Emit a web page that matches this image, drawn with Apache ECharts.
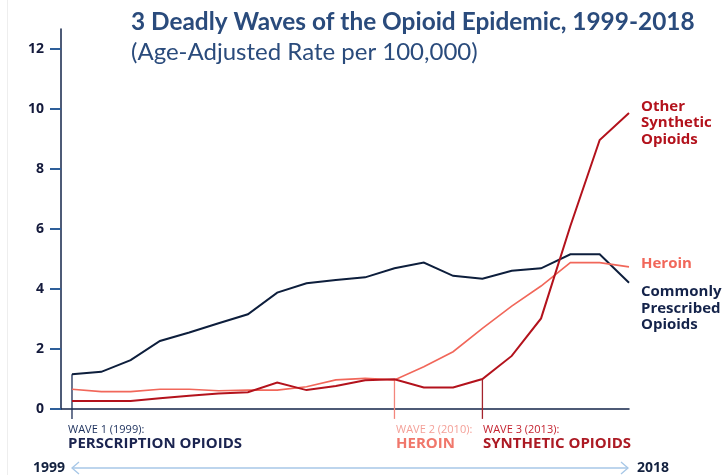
<!DOCTYPE html>
<html>
<head>
<meta charset="utf-8">
<script src="https://cdn.jsdelivr.net/npm/echarts@6/dist/echarts.min.js"></script>
<style>
  html, body { margin: 0; padding: 0; background: #fff; }
  #chart { width: 724px; height: 475px; }
</style>
</head>
<body>
<div id="chart"></div>
<script>
// years on the x axis
const years = [1999, 2000, 2001, 2002, 2003, 2004, 2005, 2006, 2007, 2008,
  2009, 2010, 2011, 2012, 2013, 2014, 2015, 2016, 2017, 2018];

// age-adjusted death rate per 100,000
const commonlyPrescribed = [1.16, 1.24, 1.63, 2.27, 2.55, 2.86, 3.16, 3.88, 4.19, 4.30,
  4.39, 4.69, 4.88, 4.44, 4.34, 4.61, 4.69, 5.16, 5.16, 4.21];
const heroin = [0.66, 0.58, 0.58, 0.66, 0.66, 0.61, 0.63, 0.63, 0.74, 0.97,
  1.02, 0.97, 1.41, 1.91, 2.69, 3.43, 4.10, 4.88, 4.88, 4.74];
const otherSynthetic = [0.27, 0.27, 0.27, 0.36, 0.44, 0.52, 0.56, 0.88, 0.63, 0.77,
  0.96, 0.99, 0.72, 0.72, 1.00, 1.77, 3.02, 6.10, 8.97, 9.87];

const yTicks = [0, 2, 4, 6, 8, 10, 12];

// start of each wave: [year, series value at that year, colour]
const waves = [
  [1999, commonlyPrescribed[years.indexOf(1999)], '#1b2c55'],
  [2010, heroin[years.indexOf(2010)], '#f3867c'],
  [2013, otherSynthetic[years.indexOf(2013)], '#a4232c']
];

const NAVY = '#0d1e3c';
const SALMON = '#f1675a';
const DARKRED = '#b3121c';

const chart = echarts.init(document.getElementById('chart'));

const pairs = vals => vals.map((v, i) => [years[i], v]);

const lineSeries = (name, vals, color, width, label, dy) => ({
  name: name,
  type: 'line',
  data: pairs(vals),
  showSymbol: false,
  symbol: 'none',
  silent: true,
  lineStyle: { color: color, width: width, join: 'miter' },
  endLabel: {
    show: true,
    formatter: label,
    distance: 12,
    offset: [0, dy],
    color: color === NAVY ? '#14234a' : color,
    fontFamily: 'Open Sans',
    fontWeight: 'bold',
    fontSize: 15,
    lineHeight: 16.5,
    align: 'left'
  }
});

const smallFont = '11px "Open Sans"';
const bigFont = 'bold 15px "Open Sans"';

const txt = (text, x, y, font, fill, align) => ({
  type: 'text',
  x: x,
  y: y,
  style: { text: text, font: font, fill: fill, textAlign: align || 'left', textVerticalAlign: 'middle' }
});

const option = {
  backgroundColor: '#fff',
  animation: false,
  title: {
    text: '3 Deadly Waves of the Opioid Epidemic, 1999-2018',
    subtext: '(Age-Adjusted Rate per 100,000)',
    left: 126,
    top: 5,
    itemGap: 6,
    textStyle: { fontFamily: 'Lato', fontWeight: 'bold', fontSize: 24.4, color: '#2a4b7c' },
    subtextStyle: { fontFamily: 'Lato', fontWeight: 'normal', fontSize: 24, color: '#2a4b7c' }
  },
  grid: { left: 61, top: 29, width: 568, height: 380, containLabel: false },
  xAxis: {
    type: 'value',
    min: 1998.625,
    max: 2018,
    axisLine: { show: true, onZero: true, lineStyle: { color: '#13254a', width: 1.5 } },
    axisTick: { show: false },
    axisLabel: { show: false },
    splitLine: { show: false }
  },
  yAxis: {
    type: 'value',
    min: 0,
    max: 12.67,
    interval: 2,
    axisLine: { show: true, lineStyle: { color: '#13254a', width: 1.5 } },
    axisTick: {
      show: true, length: 11, customValues: yTicks,
      lineStyle: { color: '#2e5f9a', width: 2 }
    },
    axisLabel: {
      customValues: yTicks,
      margin: 17,
      fontFamily: 'Open Sans',
      fontWeight: 'bold',
      fontSize: 14,
      color: '#141a3c'
    },
    splitLine: { show: false }
  },
  series: [
    {
      // wave start markers, from the data point down past the axis
      type: 'custom',
      silent: true,
      clip: false,
      data: waves,
      renderItem: (params, api) => {
        const top = api.coord([api.value(0), api.value(1)]);
        const bottom = api.coord([api.value(0), -0.33]);
        return {
          type: 'line',
          shape: { x1: top[0], y1: top[1], x2: bottom[0], y2: bottom[1] },
          style: { stroke: waves[params.dataIndex][2], lineWidth: 1.3 }
        };
      },
      z: 1
    },
    lineSeries('Commonly Prescribed Opioids', commonlyPrescribed, NAVY, 2,
      'Commonly\nPrescribed\nOpioids', 26),
    lineSeries('Heroin', heroin, SALMON, 1.6, 'Heroin', -3),
    lineSeries('Other Synthetic Opioids', otherSynthetic, DARKRED, 2,
      'Other\nSynthetic\nOpioids', 10)
  ],
  graphic: [
    { type: 'line', shape: { x1: 7.5, y1: 0, x2: 7.5, y2: 475 }, style: { stroke: '#eeeeee', lineWidth: 1 }, silent: true },
    txt('WAVE 1 (1999):', 68, 430, smallFont, '#1b2f5c'),
    txt('PERSCRIPTION OPIOIDS', 68, 444, bigFont, '#1b2450'),
    txt('WAVE 2 (2010):', 396, 430, smallFont, '#f4a098'),
    txt('HEROIN', 396, 444, bigFont, '#f0776b'),
    txt('WAVE 3 (2013):', 483, 430, smallFont, '#c42330'),
    txt('SYNTHETIC OPIOIDS', 483, 444, bigFont, '#ac1a24'),
    txt('1999', 65, 468, 'bold 14px "Open Sans"', '#13213f', 'right'),
    txt('2018', 637, 468, 'bold 14px "Open Sans"', '#13213f'),
    { type: 'line', shape: { x1: 72, y1: 468, x2: 628, y2: 468 }, style: { stroke: '#a7c7e7', lineWidth: 1.3 }, silent: true },
    { type: 'polyline', shape: { points: [[79, 462], [72, 468], [79, 474]] }, style: { stroke: '#a7c7e7', lineWidth: 1.3, fill: null }, silent: true },
    { type: 'polyline', shape: { points: [[621, 462], [628, 468], [621, 474]] }, style: { stroke: '#a7c7e7', lineWidth: 1.3, fill: null }, silent: true }
  ]
};

chart.setOption(option);
</script>
</body>
</html>
